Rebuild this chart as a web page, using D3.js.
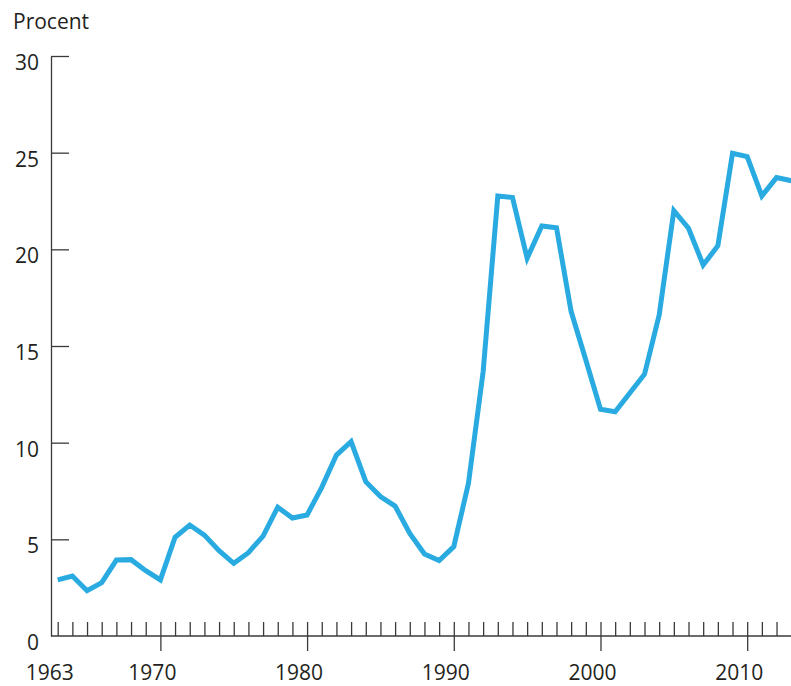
<!DOCTYPE html>
<html>
<head>
<meta charset="utf-8">
<script src="https://cdn.jsdelivr.net/npm/d3@7"></script>
<style>
  body { margin: 0; background: #fff; }
  svg text { font-family: "Open Sans", "Noto Sans", sans-serif; fill: #231f20; }
</style>
</head>
<body>
<svg id="chart" width="791" height="686"></svg>
<script>
var years = d3.range(1963, 2014);
var values = [
  2.90, 3.10, 2.34, 2.76, 3.93, 3.95, 3.38, 2.90, 5.11, 5.74,
  5.22, 4.41, 3.76, 4.31, 5.17, 6.66, 6.10, 6.26, 7.69, 9.36,
  10.05, 7.98, 7.21, 6.72, 5.31, 4.24, 3.90, 4.62, 7.90, 13.67,
  22.76, 22.68, 19.54, 21.21, 21.12, 16.78, 14.28, 11.73, 11.60, 12.57,
  13.54, 16.60, 22.00, 21.09, 19.19, 20.18, 24.97, 24.80, 22.76, 23.71,
  23.55
];
var yTicks = [0, 5, 10, 15, 20, 25, 30];
var yearLabels = [1963, 1970, 1980, 1990, 2000, 2010];
var decadeTicks = [1970, 1980, 1990, 2000, 2010];

var linecolor = "#29abe2";
var axiscolor = "#3a3a3a";

var svg = d3.select("#chart"),
    width = +svg.attr("width"),
    axisX = 51;

var xScale = d3.scaleLinear().domain([1963, 2013]).range([57.7, 791.2]);
var yScale = d3.scaleLinear().domain([0, 30]).range([636, 56]);

svg.append("text")
   .attr("x", 13)
   .attr("y", 29)
   .attr("font-size", "21px")
   .text("Procent");

// y axis, ticks pointing inward
var gy = svg.append("g")
   .attr("transform", "translate(" + axisX + ",0)")
   .call(d3.axisLeft(yScale).tickValues(yTicks).tickSizeInner(-18).tickSizeOuter(0).tickPadding(12));
gy.select(".domain").attr("stroke", axiscolor).attr("stroke-width", 1.3);
gy.selectAll(".tick line").attr("stroke", axiscolor).attr("stroke-width", 1.3)
  .filter(function(d) { return d === 0; }).remove();
gy.selectAll(".tick text")
  .attr("font-size", "21px")
  .attr("font-family", null)
  .attr("fill", null)
  .attr("dy", "0.64em");

// x axis baseline
svg.append("line")
   .attr("x1", axisX)
   .attr("x2", width)
   .attr("y1", yScale(0))
   .attr("y2", yScale(0))
   .attr("stroke", axiscolor)
   .attr("stroke-width", 1.3);

// yearly ticks upward
var gx = svg.append("g")
   .attr("transform", "translate(0," + yScale(0) + ")")
   .call(d3.axisBottom(xScale).tickValues(years).tickSizeInner(-14).tickSizeOuter(0).tickFormat(""));
gx.select(".domain").remove();
gx.selectAll(".tick line").attr("stroke", axiscolor).attr("stroke-width", 1.3);

// decade ticks downward
var gd = svg.append("g")
   .attr("transform", "translate(0," + yScale(0) + ")")
   .call(d3.axisBottom(xScale).tickValues(decadeTicks).tickSizeInner(15).tickSizeOuter(0).tickFormat(""));
gd.select(".domain").remove();
gd.selectAll(".tick line").attr("stroke", axiscolor).attr("stroke-width", 1.3);

// year labels
svg.append("g").selectAll("text")
   .data(yearLabels)
   .enter().append("text")
   .attr("x", function(d) { return xScale(d) - 8; })
   .attr("y", 680)
   .attr("text-anchor", "middle")
   .attr("font-size", "21px")
   .text(function(d) { return d; });

var line = d3.line()
   .x(function(d, i) { return xScale(years[i]); })
   .y(function(d) { return yScale(d); });

svg.append("path")
   .datum(values)
   .attr("fill", "none")
   .attr("stroke", linecolor)
   .attr("stroke-width", 5)
   .attr("stroke-linejoin", "miter")
   .attr("d", line);
</script>
</body>
</html>
